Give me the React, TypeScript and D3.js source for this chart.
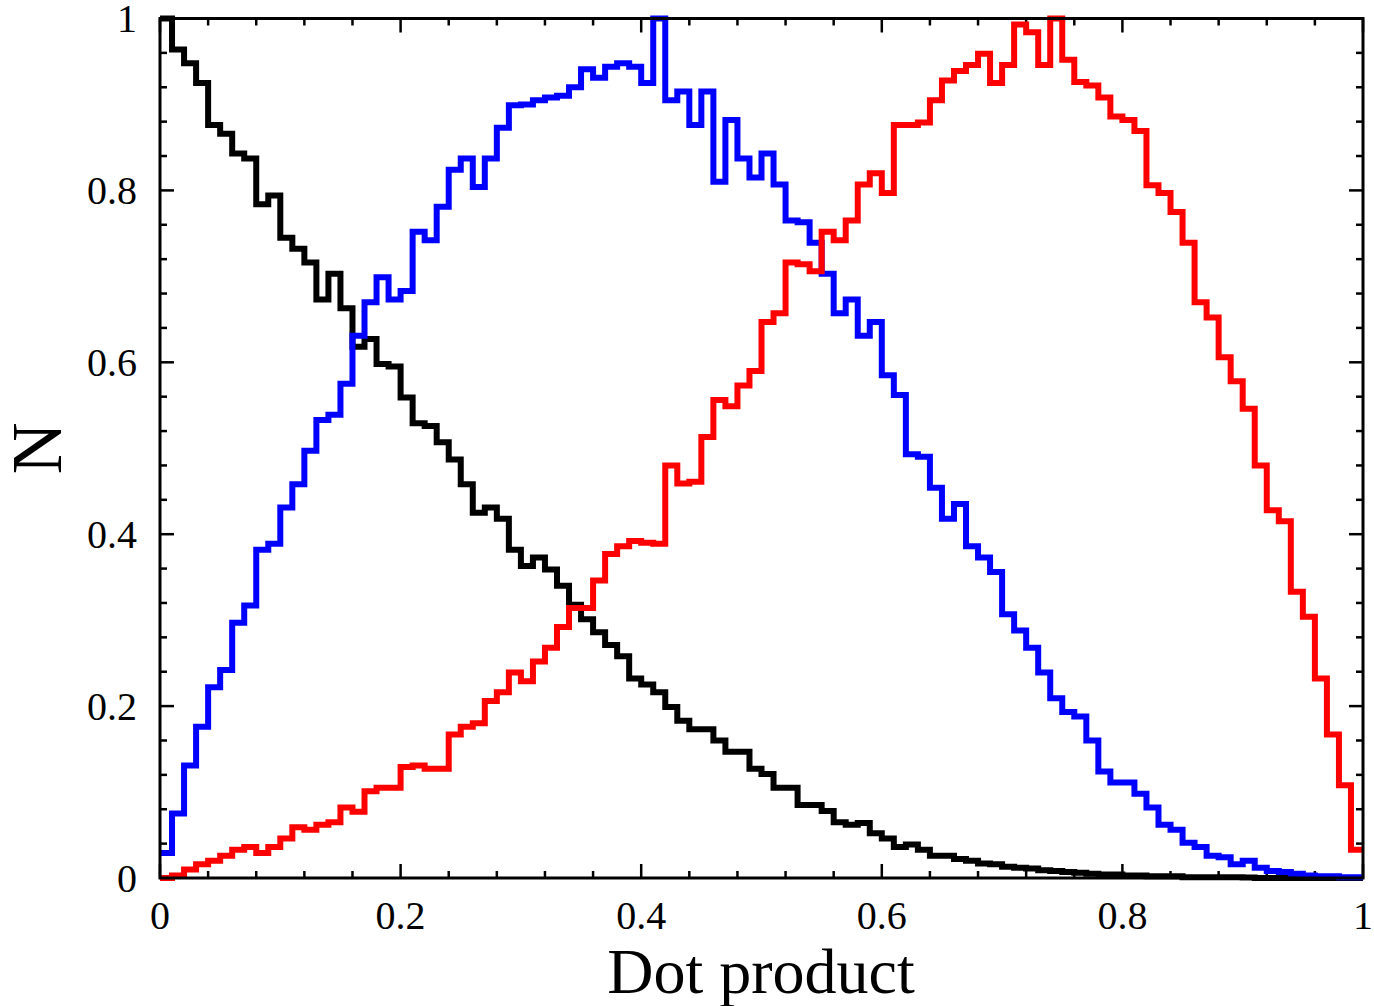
import React from "react";
import * as d3 from "d3";

const BIN_WIDTH = 0.01;

const blackValues = [
  1.0, 0.964, 0.948, 0.925, 0.876, 0.866, 0.843, 0.837, 0.784, 0.794,
  0.745, 0.732, 0.716, 0.673, 0.703, 0.663, 0.618, 0.627, 0.598, 0.595,
  0.559, 0.529, 0.526, 0.507, 0.487, 0.458, 0.425, 0.431, 0.418, 0.382,
  0.363, 0.373, 0.359, 0.340, 0.318, 0.301, 0.286, 0.271, 0.258, 0.232,
  0.225, 0.216, 0.199, 0.183, 0.173, 0.173, 0.160, 0.147, 0.147, 0.127,
  0.121, 0.105, 0.105, 0.085, 0.085, 0.078, 0.065, 0.062, 0.064, 0.052,
  0.046, 0.036, 0.039, 0.033, 0.026, 0.026, 0.022, 0.020, 0.017, 0.016,
  0.013, 0.012, 0.011, 0.009, 0.008, 0.007, 0.006, 0.005, 0.004, 0.004,
  0.003, 0.003, 0.002, 0.002, 0.002, 0.001, 0.001, 0.001, 0.001, 0.001,
  0.0005, 0, 0, 0, 0, 0, 0, 0, 0, 0,
];

const blueValues = [
  0.029, 0.075, 0.131, 0.176, 0.222, 0.242, 0.297, 0.317, 0.382, 0.389,
  0.431, 0.458, 0.497, 0.533, 0.539, 0.575, 0.631, 0.670, 0.699, 0.673,
  0.683, 0.752, 0.742, 0.781, 0.824, 0.837, 0.804, 0.837, 0.873, 0.899,
  0.900, 0.905, 0.908, 0.910, 0.920, 0.941, 0.931, 0.944, 0.948, 0.944,
  0.925, 1.0, 0.905, 0.915, 0.876, 0.915, 0.810, 0.882, 0.837, 0.815,
  0.843, 0.807, 0.765, 0.763, 0.739, 0.703, 0.657, 0.673, 0.631, 0.647,
  0.585, 0.562, 0.493, 0.490, 0.454, 0.418, 0.435, 0.386, 0.373, 0.356,
  0.307, 0.288, 0.268, 0.239, 0.209, 0.193, 0.188, 0.160, 0.124, 0.111,
  0.111, 0.098, 0.082, 0.062, 0.056, 0.041, 0.036, 0.026, 0.024, 0.016,
  0.020, 0.012, 0.008, 0.007, 0.005, 0.003, 0.002, 0.002, 0.001, 0.001,
];

const redValues = [
  0.0, 0.003, 0.010, 0.016, 0.020, 0.026, 0.033, 0.036, 0.029, 0.036,
  0.046, 0.059, 0.056, 0.062, 0.065, 0.082, 0.077, 0.101, 0.105, 0.105,
  0.129, 0.131, 0.127, 0.127, 0.167, 0.176, 0.180, 0.206, 0.216, 0.239,
  0.229, 0.252, 0.268, 0.292, 0.314, 0.314, 0.346, 0.377, 0.386, 0.392,
  0.390, 0.389, 0.480, 0.459, 0.461, 0.513, 0.556, 0.549, 0.573, 0.590,
  0.647, 0.657, 0.716, 0.714, 0.706, 0.752, 0.742, 0.765, 0.807, 0.820,
  0.797, 0.876, 0.876, 0.879, 0.905, 0.928, 0.939, 0.946, 0.959, 0.925,
  0.946, 0.993, 0.984, 0.946, 1.0, 0.952, 0.926, 0.922, 0.908, 0.886,
  0.882, 0.869, 0.806, 0.797, 0.775, 0.739, 0.670, 0.652, 0.606, 0.578,
  0.546, 0.480, 0.428, 0.415, 0.333, 0.304, 0.232, 0.167, 0.108, 0.033,
];

const seriesList = [
  { name: "black", values: blackValues, color: "#000000" },
  { name: "blue", values: blueValues, color: "#0000ff" },
  { name: "red", values: redValues, color: "#ff0000" },
];

const majorTicks = [0, 0.2, 0.4, 0.6, 0.8, 1];
const tickLabels = ["0", "0.2", "0.4", "0.6", "0.8", "1"];
const minorTicks = d3.range(0, 26).map((i) => +(i * 0.04).toFixed(2));

const xLabel = "Dot product";
const yLabel = "N";

const W = 1374;
const H = 1006;
const left = 160;
const right = 1363;
const top = 18.5;
const bottom = 878;

export default function App() {
  const x = d3.scaleLinear().domain([0, 1]).range([left, right]);
  const y = d3.scaleLinear().domain([0, 1]).range([bottom, top]);

  const line = d3
    .line<[number, number]>()
    .x((d) => x(d[0]))
    .y((d) => y(d[1]))
    .curve(d3.curveStepAfter);

  const pathFor = (vals: number[]) => {
    const pts: [number, number][] = vals.map((v, i) => [i * BIN_WIDTH, v]);
    pts.push([vals.length * BIN_WIDTH, vals[vals.length - 1]]);
    return line(pts) || "";
  };

  const font = "'Liberation Serif', 'Times New Roman', serif";
  const majorLen = 14;
  const minorLen = 7;

  const isMajor = (t: number) => majorTicks.some((m) => Math.abs(m - t) < 1e-6);

  return (
    <svg
      width={W}
      height={H}
      style={{ position: "absolute", left: 0, top: 0, background: "#fff" }}
      fontFamily={font}
    >
      <rect x={0} y={0} width={W} height={H} fill="#fff" />
      <g stroke="#000" strokeWidth={2.5}>
        {minorTicks.map((t) => {
          const len = isMajor(t) ? majorLen : minorLen;
          const xp = x(t);
          const yp = y(t);
          return (
            <g key={"t" + t}>
              <line x1={xp} x2={xp} y1={bottom} y2={bottom - len} />
              <line x1={xp} x2={xp} y1={top} y2={top + len} />
              <line x1={left} x2={left + len} y1={yp} y2={yp} />
              <line x1={right} x2={right - len} y1={yp} y2={yp} />
            </g>
          );
        })}
      </g>
      {seriesList.map((s) => (
        <path
          key={s.name}
          d={pathFor(s.values)}
          fill="none"
          stroke={s.color}
          strokeWidth={6}
          strokeLinejoin="miter"
          strokeLinecap="butt"
        />
      ))}
      <rect
        x={left}
        y={top}
        width={right - left}
        height={bottom - top}
        fill="none"
        stroke="#000"
        strokeWidth={3}
      />
      {majorTicks.map((t, i) => (
        <text
          key={"xl" + t}
          x={x(t)}
          y={929}
          textAnchor="middle"
          fontSize={40}
          fill="#000"
        >
          {tickLabels[i]}
        </text>
      ))}
      {majorTicks.map((t, i) => (
        <text
          key={"yl" + t}
          x={137}
          y={y(t)}
          dy="0.34em"
          textAnchor="end"
          fontSize={40}
          fill="#000"
        >
          {tickLabels[i]}
        </text>
      ))}
      <text x={761} y={993} textAnchor="middle" fontSize={64} fill="#000">
        {xLabel}
      </text>
      <text
        transform={`translate(61, ${(top + bottom) / 2}) rotate(-90)`}
        textAnchor="middle"
        fontSize={72}
        fill="#000"
      >
        {yLabel}
      </text>
    </svg>
  );
}
